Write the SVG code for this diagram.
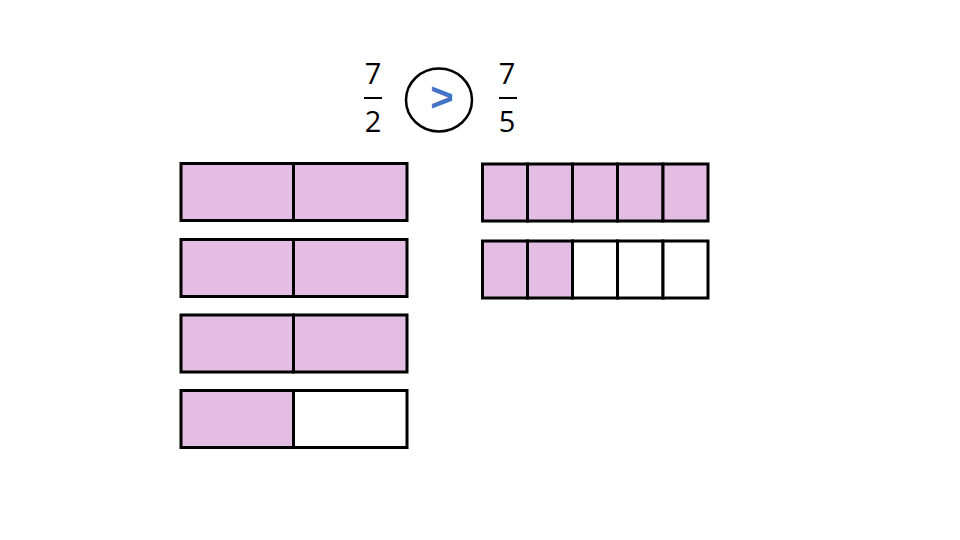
<svg xmlns="http://www.w3.org/2000/svg" width="960" height="540" viewBox="0 0 960 540">
<style>
.p{fill:#e4bde4;stroke:#000;stroke-width:3}
.w{fill:#fff;stroke:#000;stroke-width:3}
.n{font-family:"Open Sans","Liberation Sans",sans-serif;font-size:29px;fill:#000;text-anchor:middle}
.fl{stroke:#000;stroke-width:2}
</style>
<rect width="960" height="540" fill="#fff"/>
<g id="frac-left">
<text class="n" x="373" y="84">7</text>
<line class="fl" x1="364" y1="98" x2="382" y2="98"/>
<text class="n" x="373" y="132">2</text>
</g>
<g id="compare">
<ellipse cx="439" cy="100" rx="33" ry="31.5" fill="none" stroke="#000" stroke-width="2.5"/>
<text x="442" y="111" font-family="'Liberation Sans',sans-serif" font-weight="bold" font-size="40" fill="#4472c4" text-anchor="middle">&gt;</text>
</g>
<g id="frac-right">
<text class="n" x="507" y="84">7</text>
<line class="fl" x1="499" y1="98" x2="517" y2="98"/>
<text class="n" x="507" y="132">5</text>
</g>
<g id="halves-1">
<rect class="p" x="181" y="163.5" width="112.5" height="57"/>
<rect class="p" x="293.5" y="163.5" width="113.5" height="57"/>
</g>
<g id="halves-2">
<rect class="p" x="181" y="239.5" width="112.5" height="57"/>
<rect class="p" x="293.5" y="239.5" width="113.5" height="57"/>
</g>
<g id="halves-3">
<rect class="p" x="181" y="315" width="112.5" height="57"/>
<rect class="p" x="293.5" y="315" width="113.5" height="57"/>
</g>
<g id="halves-4">
<rect class="p" x="181" y="390.5" width="112.5" height="57"/>
<rect class="w" x="293.5" y="390.5" width="113.5" height="57"/>
</g>
<g id="fifths-1">
<rect class="p" x="482.5" y="164" width="45" height="57"/>
<rect class="p" x="527.5" y="164" width="45" height="57"/>
<rect class="p" x="572.5" y="164" width="45" height="57"/>
<rect class="p" x="617.5" y="164" width="45.5" height="57"/>
<rect class="p" x="663" y="164" width="45" height="57"/>
</g>
<g id="fifths-2">
<rect class="p" x="482.5" y="241" width="45" height="57"/>
<rect class="p" x="527.5" y="241" width="45" height="57"/>
<rect class="w" x="572.5" y="241" width="45" height="57"/>
<rect class="w" x="617.5" y="241" width="45.5" height="57"/>
<rect class="w" x="663" y="241" width="45" height="57"/>
</g>
<g id="connectors"/>
</svg>
